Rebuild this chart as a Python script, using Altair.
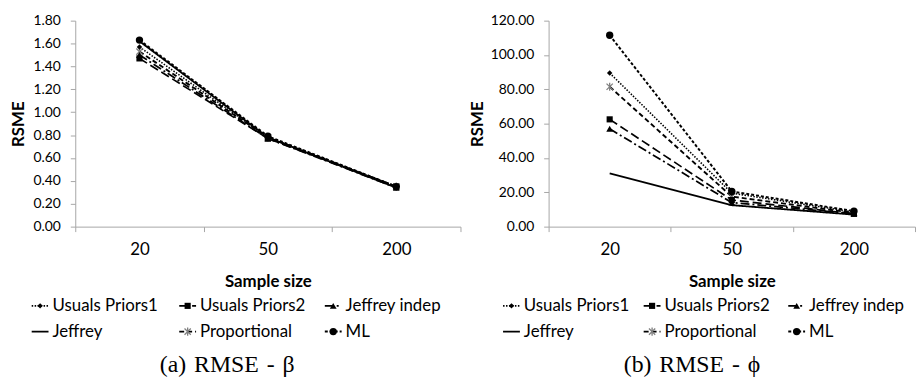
import altair as alt
import pandas as pd

# ---------------- data ----------------
sizes = ["20", "50", "200"]
series_names = ["Usuals Priors1", "Usuals Priors2", "Jeffrey indep",
                "Jeffrey", "Proportional", "ML"]

beta_up1 = [1.57, 0.78, 0.35]
beta_up2 = [1.47, 0.77, 0.35]
beta_ji = [1.50, 0.77, 0.34]
beta_jef = [1.62, 0.78, 0.34]
beta_prop = [1.53, 0.78, 0.35]
beta_ml = [1.63, 0.79, 0.35]

phi_up1 = [89.5, 19.5, 8.5]
phi_up2 = [62.5, 15.5, 7.5]
phi_ji = [57.0, 14.0, 7.5]
phi_jef = [31.0, 12.5, 7.0]
phi_prop = [81.5, 17.5, 8.0]
phi_ml = [111.5, 20.5, 9.0]

beta_ticks = [0.0, 0.2, 0.4, 0.6, 0.8, 1.0, 1.2, 1.4, 1.6, 1.8]
phi_ticks = [0, 20, 40, 60, 80, 100, 120]

captions = ["(a)\u2004RMSE\u2004-\u2004β", "(b)\u2004RMSE\u2004-\u2004ϕ"]

# ---------------- styles ----------------
dash_range = [[1.5, 1.5], [9, 4], [9, 3, 2, 3], [1, 0], [5, 3], [3, 2]]
width_range = [1.6, 2, 2, 2, 2, 2]
marker_series = ["Usuals Priors1", "Usuals Priors2", "Jeffrey indep", "ML"]
marker_shapes = ["diamond", "square", "triangle-up", "circle"]
marker_sizes = [30, 55, 55, 55]
ASTERISK = "M-1,-1L1,1M-1,1L1,-1M0,-1.3L0,1.3"
AX_COL = "#a6a6a6"
SANS = "Lato"


def long_df(vals):
    rows = []
    for s, v in zip(series_names, vals):
        for sz, y in zip(sizes, v):
            rows.append({"series": s, "size": sz, "value": y})
    return pd.DataFrame(rows)


dash_enc = alt.StrokeDash("series:N", scale=alt.Scale(domain=series_names, range=dash_range), legend=None)
width_enc = alt.StrokeWidth("series:N", scale=alt.Scale(domain=series_names, range=width_range), legend=None)
shape_enc = alt.Shape("series:N", scale=alt.Scale(domain=marker_series, range=marker_shapes), legend=None)
size_enc = alt.Size("series:N", scale=alt.Scale(domain=marker_series, range=marker_sizes), legend=None)


def plot(df, ymax, ticks, width, height, ytitle_pad):
    base = alt.Chart(df).encode(
        x=alt.X("size:N", sort=sizes,
                scale=alt.Scale(paddingInner=0, paddingOuter=0),
                axis=alt.Axis(title="Sample size", tickBand="extent", labelAngle=0,
                              labelFontSize=17, labelPadding=10, tickSize=5,
                              titlePadding=16)),
        y=alt.Y("value:Q", scale=alt.Scale(domain=[0, ymax], nice=False, zero=True),
                axis=alt.Axis(title="RSME", values=ticks, format=".2f", grid=False,
                              labelFontSize=14, tickSize=5, labelPadding=10,
                              titlePadding=ytitle_pad)),
    )
    lines = base.mark_line().encode(strokeDash=dash_enc, strokeWidth=width_enc,
                                    detail="series:N", color=alt.value("black"))
    pts = base.transform_filter(
        alt.FieldOneOfPredicate(field="series", oneOf=marker_series)
    ).mark_point(filled=True, color="black", opacity=1).encode(shape=shape_enc, size=size_enc)
    prop = base.transform_filter(alt.datum.series == "Proportional").mark_point(
        shape=ASTERISK, filled=False, color="#7f7f7f", strokeWidth=1.3, size=40, opacity=1)
    return alt.layer(lines, prop, pts).properties(width=width, height=height)


GLYPH = 17
GAP = 4


def legend(col_starts, width, height):
    rows = []
    for i, s in enumerate(series_names):
        c, r = i % 3, i // 3
        xs = col_starts[c]
        rows.append({"series": s, "row": r, "xs": xs, "xm": xs + GLYPH / 2,
                     "xe": xs + GLYPH, "xt": xs + GLYPH + GAP})
    ldf = pd.DataFrame(rows)
    xsc = alt.Scale(domain=[0, width], nice=False, zero=False)
    ysc = alt.Scale(domain=[-0.5, 1.5], reverse=True, nice=False, zero=False)
    base = alt.Chart(ldf).encode(y=alt.Y("row:Q", scale=ysc, axis=None))
    rule = base.mark_rule().encode(
        x=alt.X("xs:Q", scale=xsc, axis=None), x2="xe:Q",
        strokeDash=dash_enc, strokeWidth=width_enc, color=alt.value("black"))
    pts = base.transform_filter(
        alt.FieldOneOfPredicate(field="series", oneOf=marker_series)
    ).mark_point(filled=True, color="black", opacity=1).encode(
        x=alt.X("xm:Q", scale=xsc, axis=None), shape=shape_enc, size=size_enc)
    prop = base.transform_filter(alt.datum.series == "Proportional").mark_point(
        shape=ASTERISK, filled=False, color="#7f7f7f", strokeWidth=1.3, size=40, opacity=1
    ).encode(x=alt.X("xm:Q", scale=xsc, axis=None))
    txt = base.mark_text(align="left", baseline="middle", font=SANS, fontSize=17,
                         color="black").encode(
        x=alt.X("xt:Q", scale=xsc, axis=None), text="series:N")
    return alt.layer(rule, pts, prop, txt).properties(width=width, height=height)


def panel(plot_chart, legend_chart, caption, dx):
    return alt.vconcat(plot_chart, legend_chart, spacing=4).properties(
        title=alt.TitleParams(text=caption, orient="bottom", anchor="middle",
                              font="Liberation Serif", fontSize=24, fontWeight="normal",
                              color="black", offset=9, dx=dx))


beta_df = long_df([beta_up1, beta_up2, beta_ji, beta_jef, beta_prop, beta_ml])
phi_df = long_df([phi_up1, phi_up2, phi_ji, phi_jef, phi_prop, phi_ml])

# legend column starts are relative to each plot's left edge
left = panel(plot(beta_df, 1.8, beta_ticks, 389, 208, 6),
             legend([-44, 105, 252], 380, 52), captions[0], -8)
right = panel(plot(phi_df, 120, phi_ticks, 370, 208, 4),
              legend([-46, 96, 242], 360, 52), captions[1], 0)

chart = alt.hconcat(left, right, spacing=7).properties(
    padding={"left": 9, "top": 12, "right": 0, "bottom": 0}
).configure_view(stroke=None).configure_axis(
    labelFont=SANS, titleFont=SANS, labelColor="black", titleColor="black",
    titleFontSize=17, titleFontWeight="bold",
    domainColor=AX_COL, tickColor=AX_COL, domainWidth=1, tickWidth=1,
)

chart.save("out.html", embed_options={"renderer": "svg", "actions": False})
